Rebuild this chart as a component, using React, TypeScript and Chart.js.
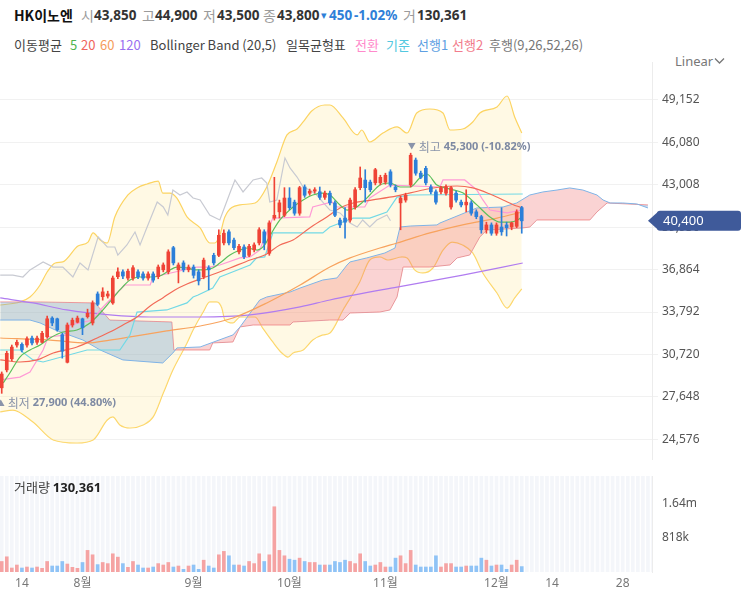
import React, { useEffect, useRef } from "react";
import { Chart, registerables } from "chart.js";

Chart.register(...registerables);

// ---------- DATA ----------
// candles: [open, high, low, close]
const candles: number[][] = [
  [28300, 29450, 27900, 29300], [29600, 30950, 29450, 30800], [30400, 31400, 30250, 31250], [31400, 31750, 31250, 31600],
  [31450, 31550, 30900, 31050], [31400, 32000, 31250, 31850], [31900, 32050, 31400, 31550], [31600, 32050, 31450, 31900],
  [31600, 32400, 31550, 32250], [32000, 33500, 31900, 33300], [33350, 33450, 32800, 33000], [33300, 33350, 32400, 32500],
  [32150, 32250, 30450, 30950], [30150, 33000, 30100, 32850], [32850, 33350, 32700, 33200], [33050, 33500, 33000, 33350],
  [33300, 33350, 32150, 32650], [33450, 34000, 33350, 33700], [33000, 34600, 32850, 34450], [35100, 35250, 34250, 34350],
  [34900, 35550, 34650, 35250], [34950, 35300, 34800, 35100], [34450, 36400, 34350, 36250], [36350, 37000, 36200, 36700],
  [36700, 36850, 36200, 36400], [36250, 36900, 36100, 36750], [36250, 37150, 36100, 37000], [36700, 36850, 36200, 36350],
  [36550, 36700, 36100, 36250], [36250, 36700, 36100, 36550], [36550, 36700, 35950, 36100], [36350, 37200, 36200, 37050],
  [36850, 37350, 36700, 37200], [36700, 38300, 36550, 38150], [38450, 38550, 37200, 37350], [36850, 37350, 35900, 37200],
  [37350, 37500, 36700, 36850], [36850, 37200, 36700, 37050], [37050, 37200, 36250, 36450], [36700, 36850, 35750, 36050],
  [36350, 37700, 36200, 37550], [37000, 37150, 35400, 36850], [37900, 38050, 37200, 37350], [37900, 39750, 37800, 39350],
  [38800, 39750, 38650, 39500], [39600, 39750, 38650, 38800], [39000, 39150, 38300, 38450], [38150, 38700, 38000, 38550],
  [38500, 38650, 37650, 37800], [37900, 38700, 37800, 38550], [38300, 38800, 38150, 38650], [38800, 39900, 38650, 39750],
  [39600, 39750, 38300, 38800], [38050, 40400, 37900, 40250], [40600, 43550, 40450, 40800], [41050, 41900, 40600, 41700],
  [40800, 42800, 40700, 42050], [42050, 42800, 41200, 41350], [41750, 41900, 40800, 40950], [40950, 42900, 40800, 42800],
  [42850, 43000, 42100, 42250], [42400, 42700, 42250, 42550], [42550, 42800, 42400, 42650], [42500, 42850, 41950, 42100],
  [42100, 42550, 41950, 42400], [42400, 42550, 41550, 41700], [41700, 41850, 40700, 40800], [40450, 40600, 39900, 40100],
  [40600, 41350, 39150, 40300], [40450, 42050, 40300, 41900], [41400, 42800, 41250, 42650], [42800, 44300, 42650, 43500],
  [43350, 44100, 41750, 42800], [43200, 43350, 42500, 42650], [43150, 44200, 43000, 44100], [43150, 43700, 43000, 43550],
  [43200, 43850, 43050, 43700], [43950, 44100, 42850, 43000], [42850, 43000, 42500, 42650], [41700, 42200, 39750, 42050],
  [41900, 42400, 41750, 42250], [43000, 45300, 42850, 45150], [44800, 44950, 43700, 43850], [43850, 44000, 43450, 43550],
  [44200, 44350, 43000, 43150], [42850, 43000, 42350, 42500], [42500, 42650, 41600, 41750], [42500, 42900, 42350, 42800],
  [42400, 43000, 42250, 42850], [41400, 42900, 41250, 42800], [42400, 42550, 41750, 41900], [41750, 41900, 41400, 41550],
  [41550, 42650, 41050, 41750], [41700, 41850, 40800, 40950], [41050, 41200, 40550, 40700], [40700, 40800, 39500, 39750],
  [39750, 40300, 39500, 40100], [40100, 40250, 39350, 39500], [39500, 40250, 39350, 40100], [39950, 41350, 39350, 39600],
  [40100, 40300, 39300, 39900], [39950, 40300, 39750, 40250], [40000, 41200, 39900, 41050], [41350, 41450, 39500, 40400],
];

const volumes: number[] = [
  253000, 366000, 96000, 168000, 96000, 120000, 96000, 120000, 89000, 253000,
  144000, 144000, 253000, 192000, 113000, 89000, 229000, 520000, 414000, 178000,
  229000, 202000, 438000, 358000, 202000, 113000, 253000, 168000, 96000, 96000,
  120000, 202000, 168000, 229000, 120000, 144000, 65000, 144000, 168000, 65000,
  284000, 144000, 96000, 414000, 496000, 390000, 168000, 168000, 144000, 253000,
  202000, 438000, 253000, 414000, 1570000, 520000, 390000, 308000, 284000, 334000,
  253000, 229000, 229000, 168000, 168000, 168000, 253000, 229000, 284000, 253000,
  202000, 438000, 253000, 144000, 168000, 229000, 120000, 120000, 334000, 390000,
  202000, 520000, 168000, 120000, 120000, 120000, 390000, 120000, 202000, 202000,
  120000, 120000, 144000, 144000, 144000, 334000, 284000, 144000, 168000, 168000,
  65000, 168000, 284000, 130361,
];

// indicator lines: [slot index, price]
const bbUpper: number[][] = [
  [-0.3, 34300], [3.6, 34520], [5.6, 34880], [7.6, 35750], [9, 36690], [10.6, 37340], [12.1, 37420], [15.1, 38570],
  [17.1, 38860], [18.1, 39520], [19.5, 39010], [20.9, 38790], [22.4, 40680], [25, 42270], [26.8, 42780], [28.8, 43070],
  [31, 43280], [31.9, 42410], [33.3, 42410], [34.7, 42050], [36.7, 40680], [39.3, 39880], [41.2, 38790], [42.2, 38790],
  [43.2, 39370], [44.2, 40680], [47.2, 41550], [50.2, 41690], [52.5, 42850], [54.5, 44660], [56.5, 46620], [58.5, 47050],
  [59.7, 47560], [61.4, 48360], [64, 48790], [65, 48790], [67.6, 47850], [70.4, 46620], [71.3, 46980], [72.9, 46110],
  [75.5, 46760], [78.3, 47200], [80.3, 46760], [82.2, 48210], [84.8, 48500], [87.4, 48210], [88.8, 46980], [91.3, 47050],
  [93.3, 47560], [94.7, 48210], [98.1, 48650], [100.1, 49440], [101.6, 47920], [103, 46760],
];
const bbLower: number[][] = [
  [-0.3, 26550], [2.2, 26690], [6.2, 25820], [10.2, 24520], [14.9, 24300], [18.1, 24520], [20.9, 25970], [22, 26190],
  [23.4, 25610], [25.4, 25390], [28, 25610], [30, 26190], [32, 27920], [33.9, 29590], [36.7, 31550], [37.9, 32490],
  [39.9, 33790], [41.2, 34520], [42.6, 34520], [43.6, 34080], [44.2, 33210], [45.8, 33000], [47.2, 33430], [50.2, 33430],
  [51.7, 32630], [53.7, 31620], [55.5, 30820], [56.7, 30530], [57.7, 30820], [59.7, 31040], [61.6, 31760], [63.6, 32130],
  [65, 32270], [67.6, 33940], [70.9, 35970], [72.9, 37560], [74.9, 37780], [76.5, 37560], [79.3, 37780], [80.3, 37710],
  [81.8, 36840], [83.4, 36620], [85.4, 36980], [87.4, 38280], [89.2, 38860], [91.3, 38650], [93.3, 38070], [95.3, 36620],
  [98.1, 35170], [100.1, 34080], [101.6, 34810], [103, 35460],
];
const ma5: number[][] = [
  [0.3, 28650], [1.6, 29370], [3.6, 30530], [5.6, 31040], [7.6, 31400], [9.6, 31910], [12.1, 32340], [14.9, 32490],
  [17.5, 33000], [19.5, 33720], [21.4, 34520], [23.4, 35390], [25.4, 36110], [27.4, 36330], [29.4, 36330], [31.3, 36400],
  [32.7, 36690], [34.7, 37050], [36.7, 36980], [38.3, 36840], [39.9, 36840], [41.8, 36980], [43.2, 37340], [45.2, 37920],
  [47.2, 38280], [48.6, 38430], [50.6, 38280], [52.1, 38650], [53.1, 39300], [55.1, 40460], [57.7, 41400], [59.7, 41910],
  [61.6, 42270], [63.6, 42410], [65, 42270], [67, 41550], [68.4, 41180], [70, 41330], [71.3, 41690], [72.9, 42270],
  [74.9, 42990], [76.9, 43140], [78.9, 42850], [80.9, 42850], [82.8, 43500], [84.2, 43790], [86.2, 42990], [88.8, 42700],
  [91.4, 42410], [94.1, 41550], [96.7, 40680], [98.7, 40310], [100.7, 40310], [102.2, 40460], [103, 40680],
];
const ma20: number[][] = [
  [-0.3, 30320], [3.6, 30170], [7, 30320], [10.2, 30820], [14.9, 31260], [18.9, 31910], [21.4, 32340], [24, 32850],
  [26.8, 33430], [29.4, 34230], [31.9, 34810], [34.3, 35390], [36.7, 35820], [39.3, 36180], [42.6, 36620], [45.2, 36980],
  [49.2, 37560], [52.1, 37920], [55.1, 38650], [57.7, 39010], [61, 39880], [64.4, 40680], [67, 41330], [69.6, 41690],
  [73.5, 41910], [78.3, 42200], [83.4, 42630], [86.8, 42850], [90.2, 42920], [93.3, 42780], [96.7, 42340], [99.3, 41910],
  [102, 41470], [103.2, 41330],
];
const ma60: number[][] = [
  [-0.3, 31910], [9.6, 31760], [16.9, 31550], [21.4, 31760], [26.4, 32050], [32.7, 32420], [39.3, 32780], [45.8, 33360],
  [52.5, 34450], [59.1, 35750], [65, 37050], [69, 37710], [74.9, 38430], [78.3, 38790], [84.8, 39520], [91.3, 40100],
  [98.1, 40600], [103.2, 41040],
];
const ma120: number[][] = [
  [-0.3, 34810], [6.2, 34450], [12.9, 33940], [21.4, 33580], [29.4, 33430], [39.3, 33430], [49.2, 33580], [59.1, 34160],
  [65, 34660], [78.3, 35600], [91.3, 36470], [103.2, 37340],
];
const tenkan: number[][] = [
  [-0.3, 28870], [3.6, 29080], [5.6, 29450], [8.2, 31040], [9.2, 31980], [12.9, 32130], [13.5, 32850], [18.1, 33210],
  [19.5, 33940], [22, 34880], [24.4, 35750], [26.8, 35750], [29.4, 35750], [30, 36330], [38.7, 37050], [41.2, 37050],
  [43.2, 37200], [47.2, 37710], [49.2, 37780], [51.1, 38280], [53.7, 40600], [61, 40680], [61.6, 41400], [65.4, 41760],
  [66.4, 41400], [71.9, 41400], [72.9, 42050], [76.9, 42990], [86.8, 42850], [87.4, 43360], [91.7, 43360], [94.1, 42630],
  [95.3, 41910], [96.7, 41180], [100.1, 40970], [103, 41180],
];
const kijun: number[][] = [
  [-0.3, 31040], [3.6, 31040], [6.2, 30320], [8.2, 30170], [16.9, 31040], [23.4, 31040], [25.4, 32130], [26.8, 33790],
  [32.7, 33940], [36.7, 34450], [37.9, 34880], [38.9, 35020], [41.8, 35530], [43.2, 36330], [45.2, 36620], [49.2, 37200],
  [50.5, 37710], [52.1, 37780], [53.7, 39520], [63.6, 39520], [65, 39950], [69.6, 40600], [72.9, 40600], [76.3, 41040],
  [78.3, 42120], [80.9, 42270], [103.2, 42340],
];
const spanA: number[][] = [
  [-0.3, 33210], [5.6, 33210], [7.6, 33000], [10.6, 32490], [16.1, 31760], [19.5, 31040], [24, 30320], [31.9, 30100],
  [33.9, 30820], [34.7, 31190], [39.3, 31260], [45.8, 32130], [47.2, 32710], [51.1, 34660], [52.5, 34880], [57.1, 35240],
  [59.1, 35530], [63.6, 36110], [66.4, 36260], [68.4, 37200], [69, 37420], [72.3, 37710], [75.9, 38070], [77.9, 38430],
  [78.9, 39950], [80.9, 40020], [86.2, 40100], [86.8, 40240], [94.1, 41330], [99.3, 41400], [102, 41690], [104.6, 42270],
  [107.2, 42490], [110, 42630], [112.5, 42780], [115.1, 42630], [117.9, 42270], [119.1, 41910], [120.5, 41690], [123, 41690],
  [125.8, 41620], [128, 41330],
];
const spanB: number[][] = [
  [-0.3, 34520], [7.6, 34520], [18.5, 34450], [21.4, 33210], [33.7, 33070], [34.1, 31040], [41.2, 31040], [41.8, 31550],
  [45.8, 31620], [47.2, 32710], [49.8, 32850], [57.1, 32850], [57.7, 33070], [65, 33210], [67.6, 33210], [69, 33720],
  [74.9, 33790], [76.9, 33940], [78.3, 34880], [79.5, 37050], [84.8, 37050], [88.8, 37200], [90.2, 37710], [92.7, 37920],
  [94.7, 39230], [96.1, 39730], [103.2, 39880], [104.6, 39950], [106, 40460], [116.5, 40460], [117.9, 41040], [119.9, 41690],
  [128, 41550],
];
const chikou: number[][] = [
  [-0.3, 36470], [2.2, 36470], [4.2, 36330], [5.6, 36840], [8.2, 37420], [10.2, 37050], [12.1, 37050], [14.1, 36330],
  [15.5, 37340], [17.1, 36840], [19.1, 39230], [20.9, 38500], [22.4, 38500], [23, 37920], [24.8, 38650], [26.4, 39590],
  [27.4, 38650], [28.8, 39950], [30.8, 41760], [32, 41400], [32.9, 40820], [33.9, 42630], [35.3, 42270], [36.7, 42490],
  [37.9, 42050], [39.3, 41910], [41.2, 40820], [43.2, 40460], [45.2, 42410], [46.2, 43360], [47.8, 42490], [49.8, 43360],
  [51.5, 43500], [52.5, 43140], [53.1, 41760], [54.5, 41910], [56.1, 44950], [57.1, 44230], [58.5, 43570], [59.7, 42850],
  [61, 42630], [62.4, 42270], [63.6, 41760], [65, 41180], [67, 40970], [69, 40240], [70.4, 39950], [71.5, 40460],
  [72.9, 39950], [74.3, 40460], [76.3, 40820], [77, 40400],
];

const priceTicks = [24576, 27648, 30720, 33792, 36864, 39936, 43008, 46080, 49152];
const volumeTicks = [818000, 1636000];
const volumeTickLabels = ["818k", "1.64m"];
const xTickIndex = [4, 16, 38, 57, 76, 98, 109, 123];
const xTickLabels = ["14", "8월", "9월", "10월", "11월", "12월", "14", "28"];
const lastPrice = 40400;
const highIndex = 81;
const highPrice = 45300;
const highPct = "(-10.82%)";
const lowIndex = 0;
const lowPrice = 27900;
const lowPct = "(44.80%)";

// ---------- LAYOUT / STYLE ----------
const X_MIN = -0.34;
const X_MAX = 128.8;
const PRICE_MIN = 23070;
const PRICE_MAX = 51905;
const VOLUME_MAX = 2310000;

const UP = "#ef4336";
const DOWN = "#2c7fd9";
const UP_VOL = "#f5a3a3";
const DOWN_VOL = "#8fc3f6";
const FONT = '"Noto Sans", "Noto Sans CJK KR", sans-serif';
const KFONT = '"Noto Sans CJK KR", "Noto Sans", sans-serif';

const fmt = (v: number) => Math.round(v).toLocaleString("en-US");
const pts = (a: number[][]) => a.map(([x, y]) => ({ x, y }));

const lineDs = (data: number[][], color: string, order: number, extra: any = {}) => ({
  type: "line",
  data: pts(data),
  borderColor: color,
  borderWidth: 1.2,
  pointRadius: 0,
  fill: false,
  order,
  ...extra,
});

const pricePlugin = {
  id: "priceExtras",
  afterDraw(chart: any) {
    const { ctx, scales, chartArea } = chart;
    const x = scales.x;
    const y = scales.y;
    ctx.save();
    ctx.textBaseline = "middle";
    // high annotation
    const hx = x.getPixelForValue(highIndex);
    const hy = y.getPixelForValue(highPrice) - 6;
    let cx = hx - 3;
    ctx.fillStyle = "#8a94aa";
    ctx.font = "8px " + FONT;
    ctx.fillText("▼", cx, hy);
    cx += ctx.measureText("▼").width + 3;
    ctx.font = "12px " + KFONT;
    ctx.fillText("최고", cx, hy);
    cx += ctx.measureText("최고").width + 3;
    ctx.fillStyle = "#7e8aa3";
    ctx.font = "bold 11px " + FONT;
    ctx.fillText(fmt(highPrice) + " " + highPct, cx, hy);
    // low annotation
    const lx = x.getPixelForValue(lowIndex);
    const ly = y.getPixelForValue(lowPrice) + 10;
    cx = lx - 5;
    ctx.fillStyle = "#8a94aa";
    ctx.font = "8px " + FONT;
    ctx.fillText("▲", cx, ly);
    cx += ctx.measureText("▲").width + 3;
    ctx.font = "12px " + KFONT;
    ctx.fillText("최저", cx, ly);
    cx += ctx.measureText("최저").width + 3;
    ctx.fillStyle = "#7e8aa3";
    ctx.font = "bold 11px " + FONT;
    ctx.fillText(fmt(lowPrice) + " " + lowPct, cx, ly);
    // current price label
    const py = y.getPixelForValue(lastPrice);
    const left = chartArea.right;
    ctx.fillStyle = "#3f5a9a";
    ctx.beginPath();
    ctx.moveTo(left - 4, py);
    ctx.lineTo(left + 6, py - 9);
    ctx.lineTo(left + 6, py + 9);
    ctx.closePath();
    ctx.fill();
    ctx.beginPath();
    (ctx as any).roundRect(left + 5, py - 10, 84, 20, 3);
    ctx.fill();
    ctx.fillStyle = "#ffffff";
    ctx.font = "13px " + FONT;
    ctx.fillText(fmt(lastPrice), left + 11, py + 0.5);
    ctx.restore();
  },
};

const stripePlugin = {
  id: "stripes",
  beforeDraw(chart: any) {
    const { ctx, chartArea: a, scales } = chart;
    const x = scales.x;
    ctx.save();
    ctx.fillStyle = "#f4f6fa";
    ctx.fillRect(a.left, a.top, a.right - a.left, a.bottom - a.top);
    ctx.strokeStyle = "#ffffff";
    ctx.lineWidth = 1.4;
    for (let i = Math.floor(X_MIN); i <= X_MAX; i++) {
      const px = x.getPixelForValue(i + 0.5);
      if (px < a.left || px > a.right) continue;
      ctx.beginPath();
      ctx.moveTo(px, a.top);
      ctx.lineTo(px, a.bottom);
      ctx.stroke();
    }
    ctx.restore();
  },
};

function priceConfig(): any {
  const bodyColors = candles.map(([o, , , c]) => (c >= o ? UP : DOWN));
  const datasets: any[] = [
    {
      type: "bar",
      data: candles.map(([o, , , c], i) => ({ x: i, y: [o, c] })),
      backgroundColor: bodyColors,
      barThickness: 3,
      minBarLength: 1,
      grouped: false,
      order: 0,
    },
    {
      type: "bar",
      data: candles.map(([, h, l], i) => ({ x: i, y: [l, h] })),
      backgroundColor: bodyColors,
      barThickness: 1,
      grouped: false,
      order: 1,
    },
    lineDs(ma5, "#5cbf5c", 2, { cubicInterpolationMode: "monotone" }),
    lineDs(ma20, "#f26a58", 3, { cubicInterpolationMode: "monotone" }),
    lineDs(ma60, "#f8a35e", 6, { cubicInterpolationMode: "monotone" }),
    lineDs(ma120, "#b07cf0", 7, { cubicInterpolationMode: "monotone" }),
    lineDs(tenkan, "#ff9ad6", 4),
    lineDs(kijun, "#72d9e6", 5),
    lineDs(chikou, "#c8cad2", 8),
    lineDs(spanA, "#7fb3e6", 9, {
      borderWidth: 1,
      fill: { target: 10, above: "rgba(240,110,110,0.30)", below: "rgba(100,150,205,0.32)" },
    }),
    lineDs(spanB, "#f29c9c", 10, { borderWidth: 1 }),
    lineDs(bbUpper, "#fcd462", 11, {
      cubicInterpolationMode: "monotone",
      fill: { target: 12, above: "rgba(255,236,170,0.32)", below: "rgba(255,236,170,0.32)" },
    }),
    lineDs(bbLower, "#fcd462", 12, { cubicInterpolationMode: "monotone" }),
  ];
  return {
    type: "bar",
    data: { datasets },
    options: {
      animation: false,
      responsive: false,
      devicePixelRatio: 1,
      events: [],
      layout: { padding: 0 },
      plugins: { legend: { display: false }, tooltip: { enabled: false } },
      scales: {
        x: { type: "linear", min: X_MIN, max: X_MAX, display: false, offset: false },
        y: {
          type: "linear",
          position: "right",
          min: PRICE_MIN,
          max: PRICE_MAX,
          afterBuildTicks: (s: any) => {
            s.ticks = priceTicks.map((v) => ({ value: v }));
          },
          afterFit: (s: any) => {
            s.width = 91;
            s.paddingTop = 0;
            s.paddingBottom = 0;
          },
          grid: { color: "#f1f1f1", tickColor: "#f1f1f1", tickLength: 6, drawTicks: true },
          border: { display: true, color: "#ececec" },
          ticks: {
            padding: 4,
            color: "#555555",
            font: { family: FONT, size: 12 },
            callback: (v: number) => fmt(v),
          },
        },
      },
    },
    plugins: [pricePlugin],
  };
}

function volumeConfig(): any {
  return {
    type: "bar",
    data: {
      datasets: [
        {
          data: volumes.map((v, i) => ({ x: i, y: v })),
          backgroundColor: candles.map(([o, , , c]) => (c >= o ? UP_VOL : DOWN_VOL)),
          barThickness: 3,
          grouped: false,
        },
      ],
    },
    options: {
      animation: false,
      responsive: false,
      devicePixelRatio: 1,
      events: [],
      layout: { padding: { top: 16, left: 0, right: 0, bottom: 0 } },
      plugins: { legend: { display: false }, tooltip: { enabled: false } },
      scales: {
        x: {
          type: "linear",
          min: X_MIN,
          max: X_MAX,
          offset: false,
          afterBuildTicks: (s: any) => {
            s.ticks = xTickIndex.map((v) => ({ value: v }));
          },
          afterFit: (s: any) => {
            s.height = 29;
            s.paddingLeft = 0;
            s.paddingRight = 0;
          },
          grid: { display: false, drawTicks: false },
          border: { display: false },
          ticks: {
            autoSkip: false,
            maxRotation: 0,
            padding: 4,
            color: "#777777",
            font: { family: FONT, size: 12 },
            callback: (v: number) => {
              const k = xTickIndex.indexOf(v);
              return k >= 0 ? xTickLabels[k] : "";
            },
          },
        },
        y: {
          position: "right",
          min: 0,
          max: VOLUME_MAX,
          afterBuildTicks: (s: any) => {
            s.ticks = volumeTicks.map((v) => ({ value: v }));
          },
          afterFit: (s: any) => {
            s.width = 91;
            s.paddingTop = 0;
            s.paddingBottom = 0;
          },
          grid: { display: false, drawTicks: false },
          border: { display: true, color: "#ececec" },
          ticks: {
            padding: 10,
            color: "#555555",
            font: { family: FONT, size: 12 },
            callback: (v: number) => {
              const k = volumeTicks.indexOf(v);
              return k >= 0 ? volumeTickLabels[k] : "";
            },
          },
        },
      },
    },
    plugins: [stripePlugin],
  };
}

// ---------- HEADER TEXT ----------
const GRAY = "#9b9b9b";
const VAL = "#333333";
const BLUE = "#2f7fd8";
const header1 = [
  { x: 14, t: "HK이노엔", c: "#111111", b: true, k: true },
  { x: 81, t: "시", c: GRAY, k: true },
  { x: 94, t: "43,850", c: VAL, b: true },
  { x: 142, t: "고", c: GRAY, k: true },
  { x: 155, t: "44,900", c: VAL, b: true },
  { x: 203, t: "저", c: GRAY, k: true },
  { x: 217, t: "43,500", c: VAL, b: true },
  { x: 263, t: "종", c: GRAY, k: true },
  { x: 277, t: "43,800", c: VAL, b: true },
  { x: 321, t: "▾", c: BLUE, s: 11 },
  { x: 329, t: "450", c: BLUE, b: true },
  { x: 354, t: "-1.02%", c: BLUE, b: true },
  { x: 403, t: "거", c: GRAY, k: true },
  { x: 417, t: "130,361", c: VAL, b: true },
];
const header2 = [
  { x: 14, t: "이동평균", c: "#444444" },
  { x: 70, t: "5", c: "#4fb44f" },
  { x: 81, t: "20", c: "#f0645c" },
  { x: 100, t: "60", c: "#f59c5c" },
  { x: 119, t: "120", c: "#9a6ff0" },
  { x: 150, t: "Bollinger Band (20,5)", c: "#444444" },
  { x: 286, t: "일목균형표", c: "#444444" },
  { x: 355, t: "전환", c: "#ff8acb" },
  { x: 386, t: "기준", c: "#52c8e0" },
  { x: 417, t: "선행1", c: "#5e9fe2" },
  { x: 452, t: "선행2", c: "#f27c8c" },
  { x: 489, t: "후행(9,26,52,26)", c: "#777777" },
];

export default function App() {
  const priceRef = useRef<HTMLCanvasElement>(null);
  const volRef = useRef<HTMLCanvasElement>(null);

  useEffect(() => {
    const pc = new Chart(priceRef.current as HTMLCanvasElement, priceConfig());
    const vc = new Chart(volRef.current as HTMLCanvasElement, volumeConfig());
    return () => {
      pc.destroy();
      vc.destroy();
    };
  }, []);

  return (
    <div
      style={{
        position: "absolute",
        left: 0,
        top: 0,
        width: 743,
        height: 601,
        background: "#ffffff",
        overflow: "hidden",
        fontFamily: KFONT,
      }}
    >
      {header1.map((h: any, i) => (
        <span
          key={"h1" + i}
          style={{
            position: "absolute",
            left: h.x,
            top: 6,
            lineHeight: "18px",
            fontSize: h.s ? h.s : h.k ? 14 : 13.5,
            fontFamily: h.k ? KFONT : FONT,
            fontWeight: h.b ? 700 : 400,
            color: h.c,
            whiteSpace: "nowrap",
          }}
        >
          {h.t}
        </span>
      ))}
      {header2.map((h, i) => (
        <span
          key={"h2" + i}
          style={{
            position: "absolute",
            left: h.x,
            top: 36,
            lineHeight: "18px",
            fontSize: 13,
            color: h.c,
            whiteSpace: "nowrap",
          }}
        >
          {h.t}
        </span>
      ))}
      <span
        style={{
          position: "absolute",
          left: 675,
          top: 52,
          lineHeight: "18px",
          fontSize: 13,
          color: "#777777",
          fontFamily: FONT,
        }}
      >
        Linear
      </span>
      <svg style={{ position: "absolute", left: 714, top: 57 }} width={11} height={8}>
        <polyline points="1,1.5 5.5,6 10,1.5" fill="none" stroke="#777" strokeWidth={1.3} />
      </svg>
      <canvas
        ref={priceRef}
        width={743}
        height={398}
        style={{ position: "absolute", left: 0, top: 62, width: 743, height: 398 }}
      />
      <canvas
        ref={volRef}
        width={743}
        height={141}
        style={{ position: "absolute", left: 0, top: 460, width: 743, height: 141 }}
      />
      <span
        style={{
          position: "absolute",
          left: 14,
          top: 478,
          lineHeight: "18px",
          fontSize: 13,
          color: "#444444",
          whiteSpace: "nowrap",
        }}
      >
        거래량 <b style={{ color: "#222222", fontFamily: FONT }}>130,361</b>
      </span>
    </div>
  );
}
